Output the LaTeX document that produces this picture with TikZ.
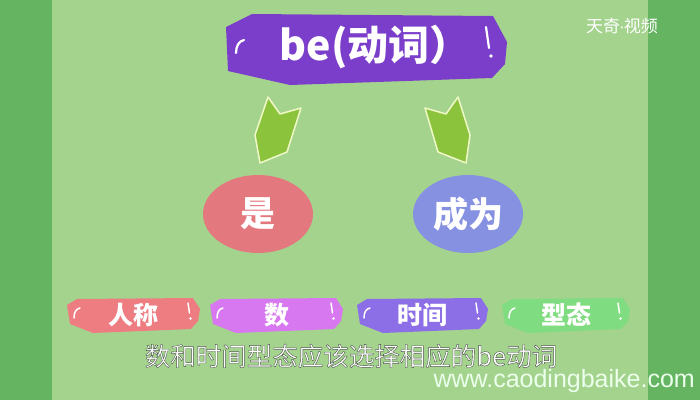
\documentclass[tikz,border=0pt]{standalone}
\usepackage{fontspec}
\setmainfont{Liberation Sans}
\newfontfamily\cjk{Noto Sans CJK SC}
\usetikzlibrary{shapes.geometric}
\definecolor{bglight}{HTML}{A4D38E}
\definecolor{bgdark}{HTML}{64B462}
\definecolor{titlecol}{HTML}{7B3ECB}
\definecolor{arrowfill}{HTML}{8CC33C}
\definecolor{arrowline}{HTML}{F0F8C8}
\definecolor{shicol}{HTML}{E4787F}
\definecolor{chengcol}{HTML}{8791E1}
\definecolor{tagpink}{HTML}{EE7D82}
\definecolor{tagmag}{HTML}{D778F0}
\definecolor{tagpur}{HTML}{8C6EE6}
\definecolor{taggreen}{HTML}{80DC80}
\newcommand\outlined[1]{\special{pdf:code 2 Tr 0.4 w 0.3 0.33 0.3 RG}#1\special{pdf:code 0 Tr}}
\tikzset{
  decoline/.style={draw=white, line width=2pt, line cap=round},
  arrowshape/.style={fill=arrowfill, draw=arrowline, line width=1.5pt, line join=round},
  bubble/.style={ellipse, inner sep=0pt, minimum width=110pt, minimum height=78pt, text=white, font=\cjk\bfseries\fontsize{35}{37}\selectfont},
  tagtext/.style={text=white, font=\cjk\bfseries\fontsize{25}{27}\selectfont, inner sep=0pt},
}
\newcommand\tagbox[5]{%
  \fill[#4] (#2,305) -- (#2+10,299) -- (#3-7,298) -- (#3,309) -- (#3-2,321) -- (#3-9,329) -- (#2+26,333) -- (#2+3,324) -- cycle;
  \draw[decoline, line width=1.5pt] (#2+7,318) .. controls (#2+7,312) and (#2+9,309) .. (#2+13,308);
  \draw[decoline, line width=1.5pt] (#3-12,303) -- (#3-10.5,313);
  \fill[white] (#3-9.5,318.5) circle (1.3);
  \node[tagtext] (#1) at ({(#2+#3)/2},315) {#5};
}
\begin{document}
\begin{tikzpicture}[x=1pt,y=-1pt]
\useasboundingbox (0,0) rectangle (700,400);
\fill[bglight] (0,0) rectangle (700,400);
\fill[bgdark] (0,0) rectangle (52,400);
\fill[bgdark] (648,0) rectangle (700,400);
% title
\fill[titlecol] (226,27) -- (252,14) -- (493,16) -- (507,42) -- (505,64) -- (492,78) -- (290,85) -- (228,71) -- cycle;
\node[text=white, font=\cjk\bfseries\fontsize{41}{43}\selectfont, inner sep=0pt] (title) at (375,47) {be(动词）};
\draw[decoline, line width=2.2pt] (236,53) .. controls (236,46) and (239,41) .. (244,40);
\draw[decoline, line width=2.2pt] (486,27) -- (489,48);
\fill[white] (491,56) circle (1.8);
% arrows
\draw[arrowshape] (268,97) -- (280,114) -- (301,108) -- (287,152) -- (260,163) -- (255,135) -- cycle;
\draw[arrowshape] (458,97) -- (446,114) -- (425,108) -- (438,152) -- (466,163) -- (470,135) -- cycle;
% bubbles
\node[bubble, fill=shicol] (shi) at (258,214) {是};
\node[bubble, fill=chengcol] (cheng) at (468,214) {成为};
% tags
\tagbox{renc}{67}{200}{tagpink}{人称}
\tagbox{shu}{210}{343}{tagmag}{数}
\tagbox{shij}{357}{488}{tagpur}{时间}
\tagbox{xingt}{502}{630}{taggreen}{型态}
% subtitle
\node[text=white, font=\cjk\fontsize{25.5}{27}\selectfont, inner sep=0pt] (sub) at (351,356) {\outlined{数和时间型态应该选择相应的be动词}};
\node[text=white!92!green, font=\fontsize{25}{25}\selectfont, anchor=base east, inner sep=0pt] (web) at (695,387) {www.caodingbaike.com};
\node[text=white, font=\cjk\fontsize{17}{17}\selectfont, inner sep=0pt] (wm) at (622,26) {天奇{\fontspec{Liberation Sans}\kern-1pt·\kern-1pt}视频};
\end{tikzpicture}
\end{document}
